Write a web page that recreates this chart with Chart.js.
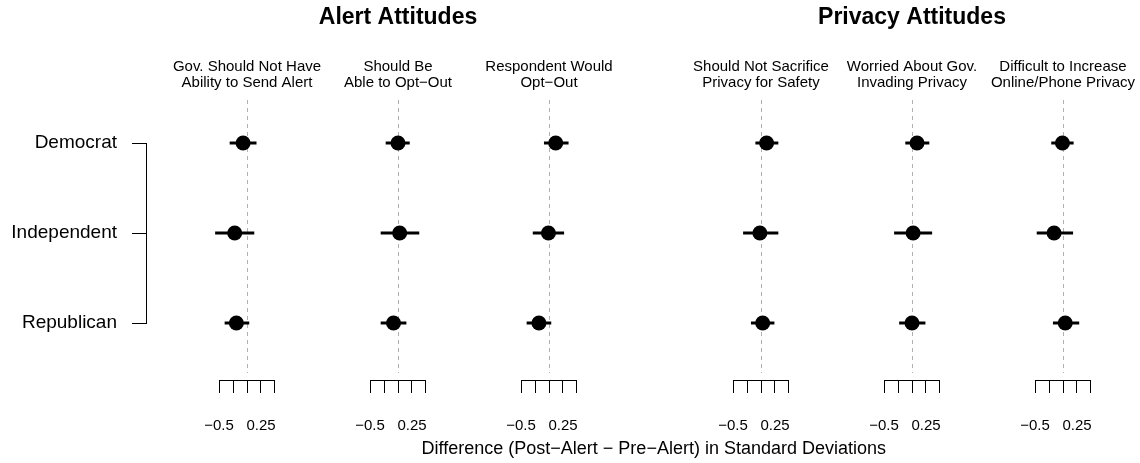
<!DOCTYPE html>
<html>
<head>
<meta charset="utf-8">
<title>Attitude shifts by party</title>
<script src="https://cdn.jsdelivr.net/npm/chart.js@4/dist/chart.umd.min.js"></script>
<style>
  html, body { margin: 0; padding: 0; background: #fff; overflow: hidden; }
  #figure { position: relative; width: 1140px; height: 463px; overflow: hidden; background: #fff; }
  #figure canvas { position: absolute; top: 0; }
</style>
</head>
<body>
<div id="figure">
  <canvas id="frame" width="1140" height="463" style="left:0"></canvas>
</div>
<script>
// ---- data ----------------------------------------------------------------
const rows = ['Democrat', 'Independent', 'Republican'];

const groupTitles = ['Alert Attitudes', 'Privacy Attitudes'];
const panelGroup = [0, 0, 0, 1, 1, 1];

const panelTitles = [
  ['Gov. Should Not Have', 'Ability to Send Alert'],
  ['Should Be', 'Able to Opt\u2212Out'],
  ['Respondent Would', 'Opt\u2212Out'],
  ['Should Not Sacrifice', 'Privacy for Safety'],
  ['Worried About Gov.', 'Invading Privacy'],
  ['Difficult to Increase', 'Online/Phone Privacy']
];

// point estimates, one row per panel: Democrat, Independent, Republican
const estimates = [
  [-0.07, -0.22, -0.19],
  [ 0.00,  0.03, -0.08],
  [ 0.12, -0.01, -0.18],
  [ 0.10, -0.02,  0.03],
  [ 0.09,  0.02,  0.00],
  [-0.01, -0.16,  0.04]
];
// lower and upper interval bounds, same layout
const lower = [
  [-0.31, -0.57, -0.40],
  [-0.22, -0.31, -0.31],
  [-0.09, -0.29, -0.40],
  [-0.10, -0.32, -0.18],
  [-0.12, -0.32, -0.23],
  [-0.21, -0.47, -0.18]
];
const upper = [
  [0.17, 0.13, 0.04],
  [0.21, 0.38, 0.15],
  [0.35, 0.27, 0.04],
  [0.31, 0.31, 0.24],
  [0.31, 0.36, 0.24],
  [0.19, 0.18, 0.29]
];

const xTickValues = [-0.5, -0.25, 0, 0.25, 0.5];
const xTickLabels = ['\u22120.5', '', '', '0.25', ''];
const xAxisTitle = 'Difference (Post\u2212Alert \u2212 Pre\u2212Alert) in Standard Deviations';

// ---- layout --------------------------------------------------------------
const panelLeft = [137, 288, 439, 651, 802, 953];   // canvas left edges
const panelWidth = 220;
const pxPerUnit = 60;
const halfRange = panelWidth / 2 / pxPerUnit;

Chart.defaults.font.family = "'Liberation Sans', Arial, Helvetica, sans-serif";
Chart.defaults.color = '#000';

// row index -> vertical value (first row on top)
const rowY = i => rows.length - i;

// dashed reference line at zero
const zeroLine = {
  id: 'zeroLine',
  beforeDatasetsDraw(chart) {
    const { ctx, chartArea, scales: { x } } = chart;
    const px = Math.round(x.getPixelForValue(0)) + 0.5;
    ctx.save();
    ctx.strokeStyle = '#b0b0b0';
    ctx.lineWidth = 1;
    ctx.setLineDash([4, 4]);
    ctx.beginPath();
    ctx.moveTo(px, chartArea.top);
    ctx.lineTo(px, chartArea.bottom - 7);
    ctx.stroke();
    ctx.restore();
  }
};

// short axis line spanning only the labelled tick range
const axisLine = {
  id: 'axisLine',
  afterDraw(chart) {
    const { ctx, chartArea, scales: { x } } = chart;
    const x0 = Math.round(x.getPixelForValue(xTickValues[0]) - 0.5);
    const x1 = Math.round(x.getPixelForValue(xTickValues[xTickValues.length - 1]) - 0.5) + 1;
    const y = Math.round(chartArea.bottom) + 0.5;
    ctx.save();
    ctx.strokeStyle = '#000';
    ctx.lineWidth = 1;
    ctx.beginPath();
    ctx.moveTo(x0, y);
    ctx.lineTo(x1, y);
    ctx.stroke();
    ctx.restore();
  }
};

// ---- frame: party labels with bracket axis, bottom axis title -------------
new Chart(document.getElementById('frame'), {
  type: 'scatter',
  data: { datasets: [] },
  options: {
    responsive: false,
    animation: false,
    events: [],
    layout: { padding: { top: 143, right: 254, bottom: 0, left: 0 } },
    plugins: { legend: { display: false }, tooltip: { enabled: false } },
    scales: {
      y: {
        type: 'category',
        labels: rows,
        offset: false,
        position: 'left',
        afterFit(scale) { scale.width = 146; },
        grid: { drawOnChartArea: false, drawTicks: true, tickLength: 14, tickColor: '#000', tickWidth: 1 },
        border: { display: true, color: '#000', width: 1 },
        ticks: { font: { size: 19 }, padding: 15, color: '#000' }
      },
      x: {
        type: 'linear',
        display: true,
        ticks: { display: false },
        grid: { display: false, drawTicks: false },
        border: { display: false },
        title: {
          display: true,
          text: xAxisTitle,
          align: 'end',
          color: '#000',
          font: { size: 18, lineHeight: 1.2 },
          padding: { top: 115.2, bottom: 3.2 }
        }
      }
    }
  }
});

// ---- panels --------------------------------------------------------------
const figure = document.getElementById('figure');

panelTitles.forEach((subtitle, p) => {
  const canvas = document.createElement('canvas');
  canvas.width = panelWidth;
  canvas.height = 463;
  canvas.style.left = panelLeft[p] + 'px';
  figure.appendChild(canvas);

  // the group heading sits over the middle panel of its group
  const members = panelGroup.map((g, i) => (g === panelGroup[p] ? i : -1)).filter(i => i >= 0);
  const isMiddle = members[Math.floor(members.length / 2)] === p;
  const heading = isMiddle ? groupTitles[panelGroup[p]] : '';

  const points = {
    data: rows.map((r, i) => ({ x: estimates[p][i], y: rowY(i) })),
    backgroundColor: '#000',
    borderWidth: 0,
    pointRadius: 7.5,
    pointHoverRadius: 7.5,
    clip: false,
    order: 0
  };

  const intervals = rows.map((r, i) => ({
    data: [{ x: lower[p][i], y: rowY(i) }, { x: upper[p][i], y: rowY(i) }],
    showLine: true,
    borderColor: '#000',
    borderWidth: 3,
    borderCapStyle: 'butt',
    pointRadius: 0,
    pointHoverRadius: 0,
    clip: false,
    order: 1
  }));

  new Chart(canvas, {
    type: 'scatter',
    data: { datasets: [points, ...intervals] },
    options: {
      responsive: false,
      animation: false,
      events: [],
      layout: { padding: { top: 4, bottom: 4, left: 0, right: 0 } },
      plugins: {
        legend: { display: false },
        tooltip: { enabled: false },
        title: {
          display: true,
          text: heading,
          color: '#000',
          font: { size: 23, weight: 'bold', lineHeight: 1.2 },
          padding: { top: 0, bottom: 27.5 }
        },
        subtitle: {
          display: true,
          text: subtitle,
          color: '#000',
          font: { size: 15, lineHeight: 1.05 },
          padding: { top: 0, bottom: 9.4 }
        }
      },
      scales: {
        x: {
          type: 'linear',
          min: -halfRange,
          max: halfRange,
          afterBuildTicks(scale) { scale.ticks = xTickValues.map(v => ({ value: v })); },
          ticks: {
            callback: (v, i) => xTickLabels[i],
            autoSkip: false,
            maxRotation: 0,
            minRotation: 0,
            padding: 24,
            color: '#000',
            font: { size: 15 }
          },
          grid: { display: true, drawOnChartArea: false, drawTicks: true, tickLength: 13, tickColor: '#000', tickWidth: 1 },
          border: { display: false }
        },
        y: { type: 'linear', display: false, min: 0.3667, max: 3.4778 }
      }
    },
    plugins: [zeroLine, axisLine]
  });
});
</script>
</body>
</html>
